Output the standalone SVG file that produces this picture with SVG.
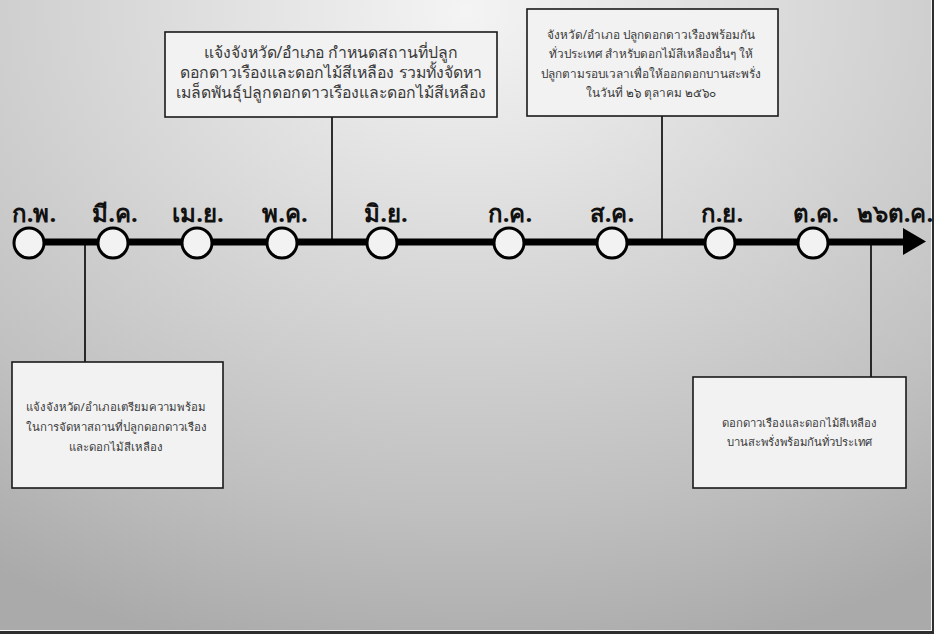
<svg xmlns="http://www.w3.org/2000/svg" width="934" height="634" viewBox="0 0 934 634">
<defs>
<radialGradient id="bg" cx="467" cy="10" r="700" gradientUnits="userSpaceOnUse" gradientTransform="translate(467 10) scale(1.25 0.95) translate(-467 -10)">
<stop offset="0" stop-color="#f4f4f4"/>
<stop offset="0.4" stop-color="#d8d8d8"/>
<stop offset="0.75" stop-color="#c0c0c0"/>
<stop offset="1" stop-color="#aaaaaa"/>
</radialGradient>
<style>
.box{fill:#f2f2f2;stroke:#1a1a1a;stroke-width:1.6}
.bt{font-family:Tahoma,"Noto Sans","DejaVu Sans",sans-serif;fill:#3a3a3a;text-anchor:middle}
.b1{font-size:15.8px}
.b2{font-size:11.8px}
.b3{font-size:11.4px}
.b4{font-size:11.3px}
.lab{font-family:Tahoma,"Noto Sans","DejaVu Sans",sans-serif;font-size:24px;font-weight:bold;fill:#111;text-anchor:middle}
.dot{fill:#f2f2f2;stroke:#000;stroke-width:3}
.con{stroke:#000;stroke-width:1.6;fill:none}
</style>
</defs>
<rect x="0" y="0" width="934" height="634" fill="url(#bg)"/>
<rect x="931" y="0" width="1" height="631" fill="#f4f4f4"/>
<rect x="932" y="0" width="2" height="634" fill="#2e2e2e"/>
<rect x="0" y="630" width="932" height="1" fill="#f4f4f4"/>
<rect x="0" y="631" width="934" height="3" fill="#2e2e2e"/>

<g id="connectors">
<line class="con" x1="85" y1="243" x2="85" y2="362"/>
<line class="con" x1="332" y1="117" x2="332" y2="243"/>
<line class="con" x1="662" y1="116" x2="662" y2="243"/>
<line class="con" x1="871" y1="243" x2="871" y2="377"/>
</g>

<g id="timeline">
<line x1="28" y1="242" x2="905" y2="242" stroke="#000" stroke-width="7"/>
<polygon points="903,228 926,241.5 903,255" fill="#000"/>
</g>

<g id="m-feb"><circle class="dot" cx="29" cy="243" r="15"/><text class="lab" x="34" y="222">ก.พ.</text></g>
<g id="m-mar"><circle class="dot" cx="113" cy="243" r="15"/><text class="lab" x="115" y="222">มี.ค.</text></g>
<g id="m-apr"><circle class="dot" cx="197" cy="243" r="15"/><text class="lab" x="198" y="222">เม.ย.</text></g>
<g id="m-may"><circle class="dot" cx="282" cy="243" r="15"/><text class="lab" x="285" y="222">พ.ค.</text></g>
<g id="m-jun"><circle class="dot" cx="382" cy="243" r="15"/><text class="lab" x="386" y="222">มิ.ย.</text></g>
<g id="m-jul"><circle class="dot" cx="509" cy="243" r="15"/><text class="lab" x="510" y="222">ก.ค.</text></g>
<g id="m-aug"><circle class="dot" cx="612" cy="243" r="15"/><text class="lab" x="612" y="222">ส.ค.</text></g>
<g id="m-sep"><circle class="dot" cx="720" cy="243" r="15"/><text class="lab" x="722" y="222">ก.ย.</text></g>
<g id="m-oct"><circle class="dot" cx="813" cy="243" r="15"/><text class="lab" x="816" y="222">ต.ค.</text></g>
<g id="m-26oct"><text class="lab" x="895" y="222">๒๖ต.ค.</text></g>

<g id="box1">
<rect class="box" x="165" y="32" width="332" height="85"/>
<text class="bt b1" x="331" y="58">แจ้งจังหวัด/อำเภอ กำหนดสถานที่ปลูก</text>
<text class="bt b1" x="331" y="78">ดอกดาวเรืองและดอกไม้สีเหลือง รวมทั้งจัดหา</text>
<text class="bt b1" x="331" y="98">เมล็ดพันธุ์ปลูกดอกดาวเรืองและดอกไม้สีเหลือง</text>
</g>

<g id="box2">
<rect class="box" x="527" y="9" width="251" height="107"/>
<text class="bt b2" x="651" y="39">จังหวัด/อำเภอ ปลูกดอกดาวเรืองพร้อมกัน</text>
<text class="bt b2" x="651" y="58">ทั่วประเทศ สำหรับดอกไม้สีเหลืองอื่นๆ ให้</text>
<text class="bt b2" x="651" y="78">ปลูกตามรอบเวลาเพื่อให้ออกดอกบานสะพรั่ง</text>
<text class="bt b2" x="651" y="97">ในวันที่ ๒๖ ตุลาคม ๒๕๖๐</text>
</g>

<g id="box3">
<rect class="box" x="12" y="362" width="211" height="126"/>
<text class="bt b3" x="116" y="411">แจ้งจังหวัด/อำเภอเตรียมความพร้อม</text>
<text class="bt b3" x="116" y="431">ในการจัดหาสถานที่ปลูกดอกดาวเรือง</text>
<text class="bt b3" x="116" y="451">และดอกไม้สีเหลือง</text>
</g>

<g id="box4">
<rect class="box" x="693" y="377" width="213" height="111"/>
<text class="bt b4" x="799" y="427">ดอกดาวเรืองและดอกไม้สีเหลือง</text>
<text class="bt b4" x="799" y="446">บานสะพรั่งพร้อมกันทั่วประเทศ</text>
</g>
</svg>
